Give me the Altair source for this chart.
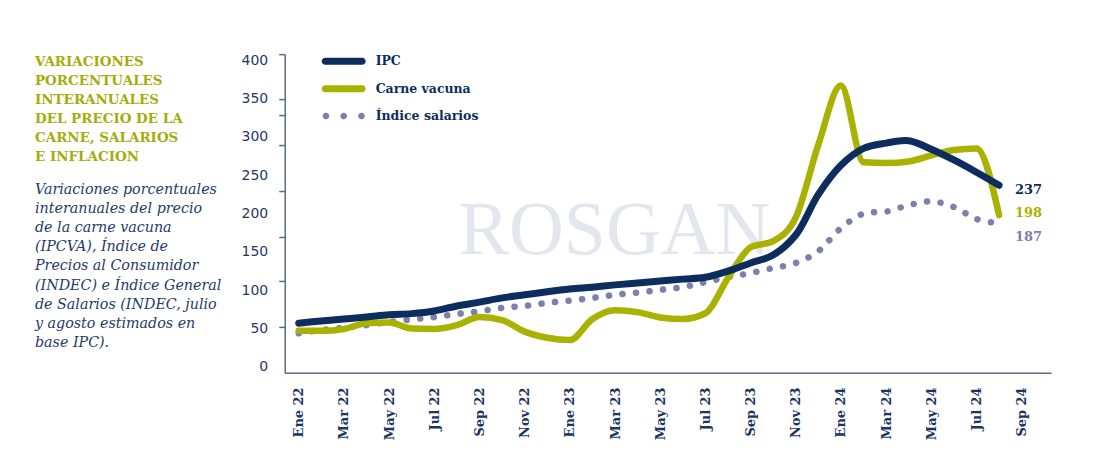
import altair as alt
import pandas as pd

# ---------------- data ----------------
series = ["IPC", "Carne vacuna", "Índice salarios"]
meses = list(range(32))  # Ene 22 ... Ago 24 (month index)

ipc = [57, 60, 62.5, 65, 68, 69.5, 73, 79.5, 84.5, 90, 94, 98, 101.5, 104, 107, 109.5,
       112, 114.5, 117, 125, 135.5, 146, 172, 225, 263, 285, 292, 295, 284, 270, 254, 237]
carne = [47, 47, 49.5, 57, 58, 50, 49.5, 54.5, 65, 61, 46, 38, 35, 62.5, 74, 71.5,
         64.5, 62.5, 70, 116, 156, 164, 195, 290, 367, 267, 266, 268, 276, 283, 285, 198]
salarios = [44, 48, 51, 54.5, 58.5, 62, 65, 69, 72.5, 77, 79.5, 83.5, 86.5, 90, 94, 97,
            100.5, 104, 110.5, 117, 122.5, 129, 135.5, 151, 181, 200, 202.5, 211, 216, 208.5, 193, 187]

x_labels = ["Ene 22", "Mar 22", "May 22", "Jul 22", "Sep 22", "Nov 22", "Ene 23", "Mar 23",
            "May 23", "Jul 23", "Sep 23", "Nov 23", "Ene 24", "Mar 24", "May 24", "Jul 24", "Sep 24"]
y_labels = [0, 50, 100, 150, 200, 250, 300, 350, 400]
y_tick_marks = [52, 112, 170, 230, 289, 328, 349, 408]

title_lines = ["VARIACIONES", "PORCENTUALES", "INTERANUALES", "DEL PRECIO DE LA",
               "CARNE, SALARIOS", "E INFLACION"]
desc_lines = ["Variaciones porcentuales", "interanuales del precio", "de la carne vacuna",
              "(IPCVA), Índice de", "Precios al Consumidor", "(INDEC) e Índice General",
              "de Salarios (INDEC, julio", "y agosto estimados en", "base IPC)."]

# ---------------- styles ----------------
NAVY = "#0c2d5e"
OLIVE = "#a9b200"
LAVENDER = "#7b80ad"
AXIS = "#5b6b8a"
colors = [NAVY, OLIVE, LAVENDER]
Y_DOMAIN = [-7.8, 408]
X_DOMAIN = [-0.62, 33.3]

# legend symbols (unit = half of the 28px symbol box)
pill = ("M -1.32 -0.25 L 1.32 -0.25 A 0.25 0.25 0 0 1 1.32 0.25 "
        "L -1.32 0.25 A 0.25 0.25 0 0 1 -1.32 -0.25 Z")
def circ(cx, r=0.24):
    return f"M {cx - r} 0 A {r} {r} 0 1 0 {cx + r} 0 A {r} {r} 0 1 0 {cx - r} 0 Z "
dots = circ(-1.27) + circ(0.0) + circ(1.27)
shape_paths = [pill, pill, dots]

df = pd.DataFrame({
    "m": meses * 3,
    "serie": [series[0]] * 32 + [series[1]] * 32 + [series[2]] * 32,
    "valor": ipc + carne + salarios,
})

color_scale = alt.Scale(domain=series, range=colors)
x_enc = alt.X("m:Q", scale=alt.Scale(domain=X_DOMAIN, nice=False, zero=False),
              axis=alt.Axis(values=list(range(0, 33, 2)),
                            labelExpr=str(x_labels) + "[datum.value / 2]",
                            labelAngle=-90, ticks=False, labelPadding=14, title=None,
                            labelFont="DejaVu Serif", labelFontWeight="bold",
                            labelFontSize=13, labelColor="#1b3563", grid=False,
                            domainColor=AXIS, domainWidth=1.5, labelBound=False,
                            labelOverlap=False))
y_scale = alt.Scale(domain=Y_DOMAIN, nice=False, zero=False)
y_none = alt.Y("valor:Q", scale=y_scale, axis=None)

base = alt.Chart(df)

def line_layer(i, width, interp, dash=None):
    kw = dict(interpolate=interp, strokeCap="round", strokeJoin="round",
              strokeWidth=width, color=colors[i])
    if dash:
        kw["strokeDash"] = dash
    return base.transform_filter(alt.datum.serie == series[i]).mark_line(**kw).encode(
        x=x_enc, y=y_none)

sal_line = line_layer(2, 6.5, "catmull-rom", [0.1, 13.5])
carne_line = line_layer(1, 6.5, "monotone")
ipc_line = line_layer(0, 7, "catmull-rom")

def end_label(i, dy):
    return base.transform_filter((alt.datum.serie == series[i]) & (alt.datum.m == 31)).mark_text(
        align="left", baseline="middle", dx=16, dy=dy, font="DejaVu Serif",
        fontWeight="bold", fontSize=13, color=colors[i]).encode(
        x=x_enc, y=y_none, text=alt.Text("valor:Q", format=".0f"))

labels = [end_label(0, 5), end_label(1, -2), end_label(2, 13.5)]

leg = alt.Legend(title=None, orient="none", legendX=45, legendY=-7, direction="vertical",
                 symbolSize=784, labelFont="DejaVu Serif", labelFontWeight="bold",
                 labelFontSize=12.5, labelColor=NAVY, labelOffset=18, rowPadding=6.5,
                 padding=0, symbolStrokeWidth=0, symbolOpacity=1)
legend_layer = base.mark_point(filled=True, size=0).encode(
    x=x_enc, y=y_none,
    color=alt.Color("serie:N", scale=color_scale, legend=leg),
    shape=alt.Shape("serie:N", scale=alt.Scale(domain=series, range=shape_paths), legend=leg))

watermark = alt.Chart(pd.DataFrame({"t": ["ROSGAN"]})).mark_text(
    font="Liberation Serif", fontSize=76, color="#e4e5ef", align="center",
    baseline="alphabetic").encode(text="t:N", x=alt.value(330), y=alt.value(200))

main = alt.layer(watermark, sal_line, carne_line, ipc_line, *labels, legend_layer)

label_axis = alt.Chart(pd.DataFrame({"v": y_labels})).mark_tick(opacity=0).encode(
    y=alt.Y("v:Q", scale=alt.Scale(domain=Y_DOMAIN, nice=False, zero=False),
            axis=alt.Axis(values=y_labels, ticks=False, domain=False, labelPadding=17,
                          orient="left", title=None, grid=False, labelFont="DejaVu Sans",
                          labelFontSize=14, labelColor="#1f3866")))

tick_axis = alt.Chart(pd.DataFrame({"t": y_tick_marks})).mark_tick(opacity=0).encode(
    y=alt.Y("t:Q", scale=alt.Scale(domain=Y_DOMAIN, nice=False, zero=False),
            axis=alt.Axis(values=y_tick_marks, labels=False, ticks=True, tickSize=6,
                          tickWidth=1.5, tickColor=AXIS, domain=True, domainColor=AXIS,
                          domainWidth=1.5, orient="left", title=None, grid=False)))

chart = alt.layer(main, label_axis, tick_axis).resolve_scale(y="independent").properties(
    width=767, height=319,
    background="white",
    autosize=alt.AutoSizeParams(type="none"),
    padding={"left": 277, "top": 46, "right": 40, "bottom": 80},
    title=alt.TitleParams(text=title_lines, subtitle=desc_lines, anchor="start",
                          frame="group", orient="top", dx=-250, dy=307.5,
                          font="DejaVu Serif", fontSize=13.5, fontWeight="bold",
                          color="#a5ac0a", lineHeight=19,
                          subtitleFont="DejaVu Serif", subtitleFontStyle="italic",
                          subtitleFontSize=14.3, subtitleColor="#233c69",
                          subtitleLineHeight=19.2, subtitlePadding=19.5),
).configure_view(stroke=None)

chart.save("out.html", embed_options={"renderer": "svg", "actions": False})
